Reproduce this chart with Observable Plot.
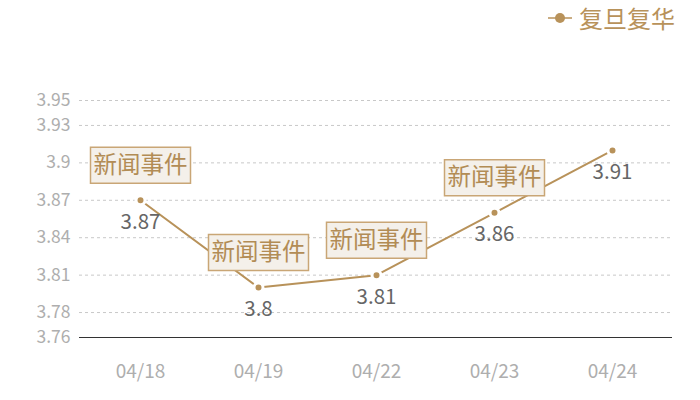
<!DOCTYPE html>
<html>
<head>
<meta charset="utf-8">
<script src="https://cdn.jsdelivr.net/npm/d3@7"></script>
<script src="https://cdn.jsdelivr.net/npm/@observablehq/plot@0.6"></script>
<style>
  html, body { margin: 0; padding: 0; background: #fff; }
  body { width: 700px; height: 400px; overflow: hidden; font-family: "Noto Sans CJK SC", "Noto Sans", sans-serif; }
  #legend { height: 40px; position: relative; }
  #legend .item { position: absolute; left: 548px; top: 3px; display: flex; align-items: center; color: #b8925a; font-size: 24px; line-height: 30px; }
  #legend svg { margin-right: 7px; }
</style>
</head>
<body>
<div id="legend"></div>
<div id="chart"></div>
<script>
const dates = ["04/18", "04/19", "04/22", "04/23", "04/24"];
const values = [3.87, 3.80, 3.81, 3.86, 3.91];
const yTicks = [3.76, 3.78, 3.81, 3.84, 3.87, 3.90, 3.93, 3.95];
const annotatedDates = ["04/18", "04/19", "04/22", "04/23"];
const annotationText = "新闻事件";
const seriesName = "复旦复华";

const C = "#b8925a";
const data = dates.map((d, i) => ({date: d, value: values[i]}));
const annData = data.filter(d => annotatedDates.includes(d.date));

const boxSymbol = {
  draw(context, size) {
    context.moveTo(-50, -18);
    context.lineTo(50, -18);
    context.lineTo(50, 18);
    context.lineTo(-50, 18);
    context.closePath();
  }
};

// legend
const lg = document.createElement("div");
lg.className = "item";
lg.innerHTML = `<svg width="24" height="12"><line x1="0" x2="24" y1="6" y2="6" stroke="${C}" stroke-width="1.5"/><circle cx="12" cy="6" r="5" fill="${C}"/></svg><span>${seriesName}</span>`;
document.getElementById("legend").appendChild(lg);

const chart = Plot.plot({
  width: 700,
  height: 360,
  marginTop: 60,
  marginBottom: 63,
  marginLeft: 79,
  marginRight: 28,
  style: {fontFamily: '"Noto Sans CJK SC", "Noto Sans", sans-serif', background: "#fff", overflow: "visible"},
  x: {type: "point", domain: dates, padding: 0.5, axis: null},
  y: {domain: [3.76, 3.95], axis: null},
  marks: [
    Plot.ruleY(yTicks.filter(t => t !== 3.76), {stroke: "#c8c8c8", strokeDasharray: "3,3", strokeWidth: 1}),
    Plot.ruleY([3.76], {stroke: "#333", strokeWidth: 1.2}),
    Plot.axisX({tickSize: 0, tickPadding: 27, fill: "#aeaeae", fontSize: 19, label: null}),
    Plot.axisY({ticks: yTicks, tickFormat: d => String(d), tickSize: 0, tickPadding: 9, fill: "#aeaeae", fontSize: 17.5, label: null}),
    Plot.line(data, {x: "date", y: "value", stroke: C, strokeWidth: 2}),
    Plot.dot(data, {x: "date", y: "value", r: 4.5, fill: C, stroke: "#fff", strokeWidth: 3}),
    Plot.text(data, {x: "date", y: "value", text: d => String(d.value), dy: 22, fill: "#666", fontSize: 20.5}),
    Plot.dot(annData, {x: "date", y: "value", dy: -35, symbol: boxSymbol, r: 10, fill: "#f4f0ea", stroke: "#c9a676", strokeWidth: 1.5}),
    Plot.text(annData, {x: "date", y: "value", dy: -35, text: () => annotationText, fill: "#b28c55", fontSize: 23.5})
  ]
});
document.getElementById("chart").appendChild(chart);
</script>
</body>
</html>
